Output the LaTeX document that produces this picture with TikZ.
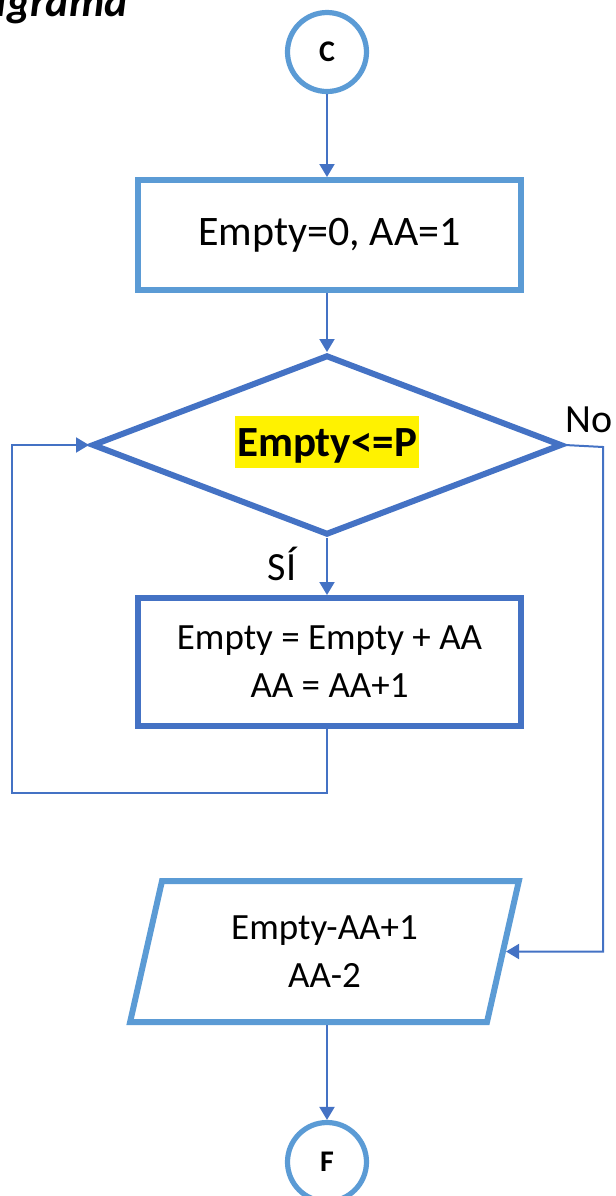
\documentclass[tikz,border=0pt]{standalone}
\usepackage{fontspec}
\setmainfont{Carlito}
\usetikzlibrary{shapes.geometric,arrows.meta}
\definecolor{lightblue}{HTML}{5B9BD5}
\definecolor{darkblue}{HTML}{4472C4}
\tikzset{
% Node styles for the flowchart: terminals, boxes, decision and output
term node/.style={circle,draw=lightblue,line width=2.6pt,minimum size=39.5pt,inner sep=0,font=\fontsize{15}{18}\selectfont\bfseries},
init box/.style={rectangle,draw=lightblue,line width=3pt,minimum width=191.5pt,minimum height=55pt,font=\fontsize{21}{26}\selectfont},
proc box/.style={rectangle,draw=darkblue,line width=3pt,minimum width=191.5pt,minimum height=64pt,align=center,font=\fontsize{18.5}{24}\selectfont},
decision node/.style={diamond,draw=darkblue,line width=3pt,minimum width=235pt,minimum height=90pt,inner sep=0},
io node/.style={trapezium,trapezium left angle=75.7,trapezium right angle=104.3,trapezium stretches=true,draw=lightblue,line width=3pt,minimum width=194.5pt,minimum height=70.5pt,inner sep=0,align=center,font=\fontsize{18.5}{24}\selectfont},
% Highlighted condition and branch labels
cond text/.style={fill=yellow,inner xsep=1pt,inner ysep=0,text height=20pt,text depth=6pt,font=\fontsize{21.5}{26}\selectfont\bfseries},
branch text/.style={inner sep=0,anchor=base,font=\fontsize{20}{24}\selectfont},
flow/.style={draw=darkblue,line width=1pt,-{Triangle[length=6.5pt,width=7.5pt]}}
}
\begin{document}
\begin{tikzpicture}[x=0.5pt,y=-0.5pt]
      \useasboundingbox (0,0) rectangle (616,1196);
      % Title, cut by the page edge
      \node[inner sep=0,anchor=base east,font=\fontsize{22}{26}\selectfont\bfseries\itshape] (ttl) at (128,16) {Diagrama};
      % The chart, top to bottom
      \node[term node] (start) at (327,52) {C};
      \node[init box] (init) at (329.5,235) {Empty=0, AA=1};
      \node[decision node] (dec) at (327,445) {};
      \node[cond text] (cond) at (327,442) {Empty<=P};
      \node[proc box] (proc) at (329.5,662) {Empty = Empty + AA\\AA = AA+1};
      \node[io node] (out) at (324.5,951.5) {Empty-AA+1\\AA-2};
      \node[term node] (stop) at (327,1162) {F};
      % Branch labels
      \node[branch text] (yes) at (282,580) {SÍ};
      \node[branch text] (no) at (589,432) {No};
      % Turning points of the two side lines
      \coordinate (loopcorner) at (12,793);
      \coordinate (rightrail) at (603,447);
      % Connectors
      \draw[flow] (start.south) -- (start.south |- init.north);
      \draw[flow] (dec.north |- init.south) -- (dec.north);
      \draw[flow] (dec.south) -- (dec.south |- proc.north);
      \draw[flow] (dec.south |- proc.south) |- (loopcorner) |- (dec.west);
      \draw[flow] (dec.east) -- (rightrail) |- (out.east);
      \draw[flow] (stop.north |- out.south) -- (stop.north);
\end{tikzpicture}
\end{document}
